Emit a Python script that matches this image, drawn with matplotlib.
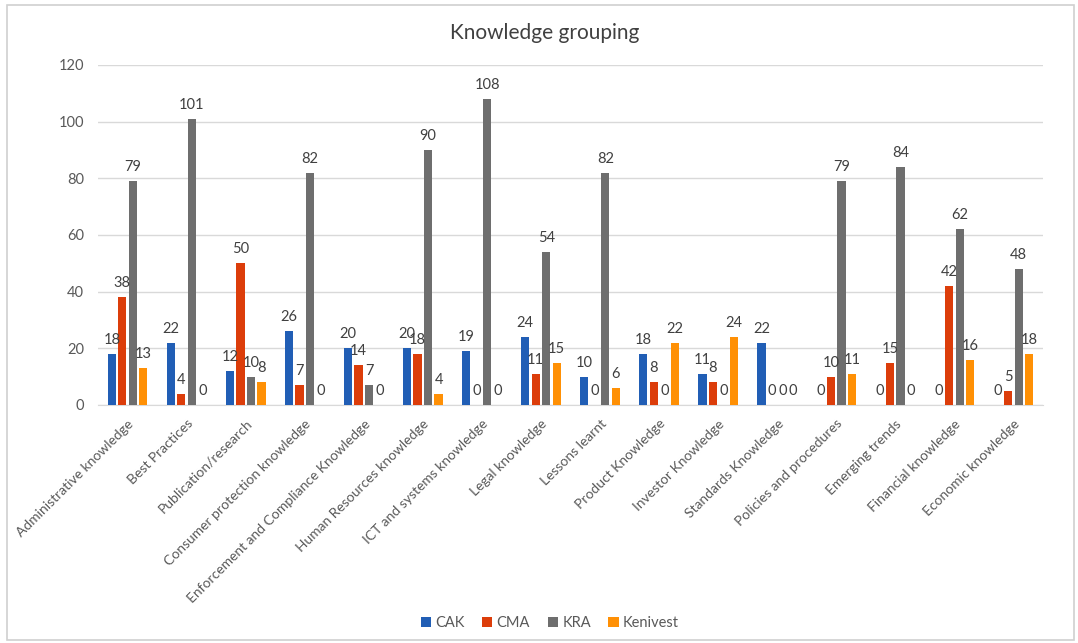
import matplotlib
matplotlib.use("Agg")
import matplotlib.pyplot as plt
import numpy as np
from matplotlib.patches import Rectangle

categories = ["Administrative knowledge", "Best Practices", "Publication/research",
              "Consumer protection knowledge", "Enforcement and Compliance Knowledge",
              "Human Resources knowledge", "ICT and systems knowledge", "Legal knowledge",
              "Lessons learnt", "Product Knowledge", "Investor Knowledge",
              "Standards Knowledge", "Policies and procedures", "Emerging trends",
              "Financial knowledge", "Economic knowledge"]
cak = [18, 22, 12, 26, 20, 20, 19, 24, 10, 18, 11, 22, 0, 0, 0, 0]
cma = [38, 4, 50, 7, 14, 18, 0, 11, 0, 8, 8, 0, 10, 15, 42, 5]
kra = [79, 101, 10, 82, 7, 90, 108, 54, 82, 0, 0, 0, 79, 84, 62, 48]
kenivest = [13, 0, 8, 0, 0, 4, 0, 15, 6, 22, 24, 0, 11, 0, 16, 18]
series_names = ["CAK", "CMA", "KRA", "Kenivest"]
colors = ["#215EB5", "#DC3D0A", "#6E6E6E", "#FF9005"]

plt.rcParams['font.family'] = ['Lato', 'DejaVu Sans']

fig = plt.figure(figsize=(10.78, 6.43), dpi=100)
fig.patches.append(Rectangle((7/1078, 3/643), 1067/1078, 635/643, transform=fig.transFigure,
                             fill=False, edgecolor="#D0D0D0", linewidth=1.2))
ax = fig.add_axes([98/1078, 1 - 405/643, (1043 - 98)/1078, (405 - 65)/643])

x = np.arange(len(categories))
step = 0.178
width = 0.14
all_series = [cak, cma, kra, kenivest]
for i, (vals, name, c) in enumerate(zip(all_series, series_names, colors)):
    bars = ax.bar(x + (i - 1.5) * step, vals, width, color=c, label=name, zorder=3)
    ax.bar_label(bars, labels=[str(v) for v in vals], padding=5, fontsize=10.5,
                 color="#404040", zorder=4)

ax.set_ylim(0, 120)
ax.set_yticks(range(0, 121, 20))
ax.set_xlim(-0.5, len(categories) - 0.5)
ax.grid(axis="y", color="#D9D9D9", linewidth=1, zorder=0)
for s in ["top", "right", "left"]:
    ax.spines[s].set_visible(False)
ax.spines["bottom"].set_color("#D9D9D9")
ax.tick_params(axis="both", length=0, labelcolor="#595959")
ax.tick_params(axis="y", pad=10, labelsize=10.5)
ax.set_xticks(x)
ax.set_xticklabels(categories, rotation=45, ha="right", va="top", rotation_mode="anchor",
                   fontsize=10)
ax.tick_params(axis="x", pad=9)

fig.text(0.505, 0.949, "Knowledge grouping", ha="center", va="center", fontsize=15, color="#404040")

handles, labels = ax.get_legend_handles_labels()
fig.legend(handles, labels, loc="center", bbox_to_anchor=(0.51, 0.031), ncol=4, frameon=False,
           fontsize=10.5, handlelength=0.7, handleheight=0.7, handletextpad=0.3,
           columnspacing=1.2, labelcolor="#595959")

fig.savefig("out.png", dpi=100)
